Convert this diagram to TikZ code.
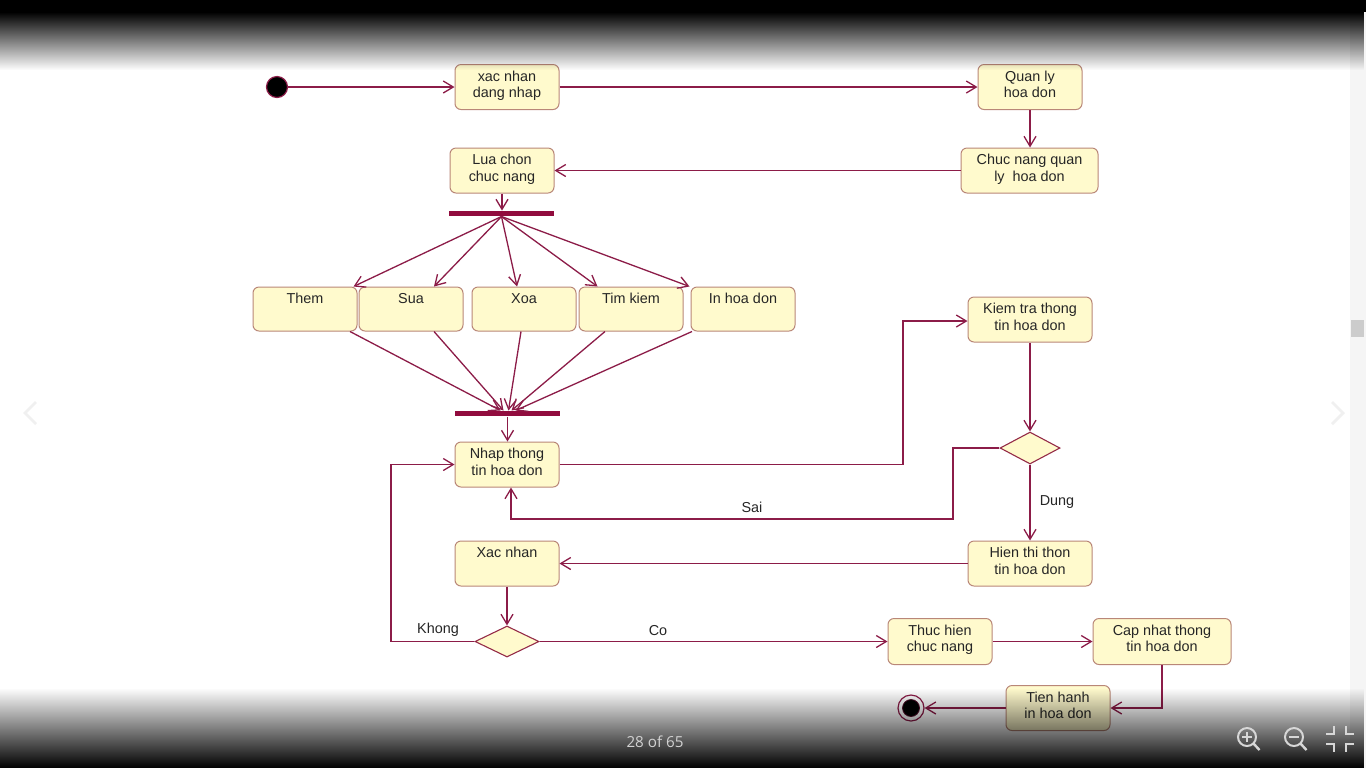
\documentclass[tikz,border=0pt]{standalone}
\usepackage{fontspec}
\setmainfont{Liberation Sans}
\newfontfamily\viewerfont{Open Sans}
\usetikzlibrary{arrows.meta,shapes.geometric,fadings,calc}
\definecolor{flowc}{RGB}{140,28,72}
\definecolor{barc}{RGB}{145,12,62}
\definecolor{boxfill}{RGB}{255,250,205}
\definecolor{boxline}{RGB}{185,135,120}
\definecolor{iconc}{RGB}{215,215,215}
\tikzfading[name=fadedown, top color=transparent!0, bottom color=transparent!100]
\tikzfading[name=fadeup, top color=transparent!100, bottom color=transparent!0]
\newcommand\actnode[6]{%
  \node[act, minimum width=#4, minimum height=#5] (#1) at (#2,#3) {};
  \node[txt] (#1t) at ([yshift=-3.2pt]#1.north) {#6};}
\begin{document}
\begin{tikzpicture}[x=0.5pt,y=-0.5pt,
  act/.style={draw=boxline, fill=boxfill, rounded corners=3pt, line width=0.5pt, inner sep=0pt},
  txt/.style={font=\fontsize{7.2pt}{8.2pt}\selectfont, align=center, inner sep=0pt, anchor=north, text=black!85},
  flow/.style={draw=flowc, line width=0.65pt, -{Straight Barb[length=5pt,width=6pt]}},
  bar/.style={fill=barc, draw=none, minimum width=52.5pt, minimum height=2.6pt, inner sep=0pt},
  dec/.style={diamond, draw=flowc!85!brown, fill=boxfill, line width=0.55pt, inner sep=0pt},
  elbl/.style={font=\fontsize{7.2pt}{8.2pt}\selectfont, inner sep=0pt, text=black!85}]
\useasboundingbox (0,0) rectangle (1366,768);
\fill[white] (0,0) rectangle (1366,768);
% scrollbar
\fill[gray!8] (1350,0) rectangle (1366,768);
\fill[gray!40] (1351,320) rectangle (1364,337);
% faint nav chevrons
\draw[gray!12, line width=1.4pt] (36,402) -- (25,413) -- (36,424);
\draw[gray!12, line width=1.4pt] (1332,402) -- (1343,413) -- (1332,424);

% nodes
\node[circle, fill=black, draw=flowc, line width=0.6pt, minimum size=10.5pt, inner sep=0pt] (init) at (277,87) {};
\actnode{xnd}{507}{87}{52pt}{22.5pt}{xac nhan\\dang nhap}
\actnode{ql}{1030}{87}{52pt}{22.5pt}{Quan ly\\hoa don}
\actnode{cn}{1029.5}{170.5}{68.5pt}{22.5pt}{Chuc nang quan\\ly\ \ hoa don}
\actnode{lcn}{502}{170.5}{52pt}{22.5pt}{Lua chon\\chuc nang}
\node[bar] (fork) at (501.5,213.5) {};
\actnode{them}{305}{309}{52pt}{22pt}{Them}
\actnode{sua}{411}{309}{52pt}{22pt}{Sua}
\actnode{xoa}{524}{309}{52pt}{22pt}{Xoa}
\actnode{tim}{631}{309}{52pt}{22pt}{Tim kiem}
\actnode{inhd}{743}{309}{52pt}{22pt}{In hoa don}
\node[bar] (join) at (507.5,413.5) {};
\actnode{nhap}{507}{464.5}{52pt}{22.5pt}{Nhap thong\\tin hoa don}
\actnode{kt}{1030}{319.5}{62pt}{22.5pt}{Kiem tra thong\\tin hoa don}
\node[dec, minimum width=30pt, minimum height=16pt] (d1) at (1030,448) {};
\actnode{ht}{1030}{563.5}{62pt}{22.5pt}{Hien thi thon\\tin hoa don}
\actnode{xn}{507}{563.5}{52pt}{22.5pt}{Xac nhan}
\node[dec, minimum width=32pt, minimum height=15.5pt] (d2) at (507,641.5) {};
\actnode{th}{940}{641.5}{52pt}{23pt}{Thuc hien\\chuc nang}
\actnode{cap}{1162}{641.5}{69pt}{23pt}{Cap nhat thong\\tin hoa don}
\actnode{tien}{1058}{708}{52pt}{22.5pt}{Tien hanh\\in hoa don}
\node[circle, fill=white, draw=flowc, line width=0.6pt, minimum size=13pt, inner sep=0pt] (final) at (911,708) {};
\node[circle, fill=black, draw=flowc!60!black, line width=0.4pt, minimum size=8.5pt, inner sep=0pt] (finalin) at (911,708) {};

% coordinates for bends
\coordinate (c1) at (903,321);
\coordinate (c2) at (953,519);
\coordinate (c3) at (391,641.5);

% connectors
\draw[flow] (init) -- (init -| xnd.west);
\draw[flow] (xnd) -- (ql);
\draw[flow] (ql) -- (ql |- cn.north);
\draw[flow] (cn) -- (lcn);
\draw[flow] (lcn.south) -- (lcn.south |- fork.north);
\draw[flow] (fork.south) -- ([xshift=-2pt]them.north east);
\draw[flow] (fork.south) -- ([xshift=11.5pt]sua.north);
\draw[flow] (fork.south) -- ([xshift=-3.5pt]xoa.north);
\draw[flow] (fork.south) -- ([xshift=9.5pt]tim.north west);
\draw[flow] (fork.south) -- ([xshift=-0.5pt]inhd.north west);
\draw[flow] ([xshift=22.5pt]them.south) -- ([xshift=-3.5pt]join.north);
\draw[flow] ([xshift=11.5pt]sua.south) -- ([xshift=-2pt]join.north);
\draw[flow] ([xshift=-1.5pt]xoa.south) -- ([xshift=0.5pt]join.north);
\draw[flow] ([xshift=-13pt]tim.south) -- ([xshift=2pt]join.north);
\draw[flow] ([xshift=-25.5pt]inhd.south) -- ([xshift=4pt]join.north);
\draw[flow] (join.south) -- (join.south |- nhap.north);
\draw[flow] (nhap.east) -| (c1) -- (c1 -| kt.west);
\draw[flow] (kt) -- (d1);
\draw[flow] (d1.west) -| (c2) -| ([xshift=2pt]nhap.south);
\node[elbl] (sai) at (752,507) {Sai};
\draw[flow] (d1) -- (ht);
\node[elbl] (dung) at (1057,502) {Dung};
\draw[flow] (ht.west) -- (ht.west -| xn.east);
\draw[flow] (xn) -- (d2);
\draw[flow] (d2.west) -- (c3) |- (nhap.west);
\node[elbl] (khong) at (438,630) {Khong};
\draw[flow] (d2.east) -- (d2.east -| th.west);
\node[elbl] (co) at (658,631) {Co};
\draw[flow] (th) -- (cap);
\draw[flow] (cap.south) |- (tien.east);
\draw[flow] (tien.west) -- (final.east);

% viewer overlays
\fill[black] (0,0) rectangle (1366,12);
\fill[black, path fading=fadedown] (0,12) rectangle (1366,70);
\fill[black, path fading=fadeup] (0,688) rectangle (1366,768);
\node[font=\viewerfont\fontsize{7.6pt}{9pt}\selectfont, text=gray!35, inner sep=0pt] (page) at (655,742) {28 of 65};
% zoom in icon
\draw[iconc, line width=1pt] (1247,737) circle (9);
\draw[iconc, line width=1.2pt] (1253.5,743.5) -- (1259.5,750);
\draw[iconc, line width=0.9pt] (1242,737) -- (1252,737) (1247,732) -- (1247,742);
% zoom out icon
\draw[iconc, line width=1pt] (1294,737) circle (9);
\draw[iconc, line width=1.2pt] (1300.5,743.5) -- (1306.5,750);
\draw[iconc, line width=0.9pt] (1289,737) -- (1299,737);
% collapse icon
\draw[iconc, line width=1.2pt] (1334,726) -- (1334,734) -- (1326,734);
\draw[iconc, line width=1.2pt] (1346,726) -- (1346,734) -- (1354,734);
\draw[iconc, line width=1.2pt] (1326,744) -- (1334,744) -- (1334,752);
\draw[iconc, line width=1.2pt] (1354,744) -- (1346,744) -- (1346,752);
\end{tikzpicture}
\end{document}
